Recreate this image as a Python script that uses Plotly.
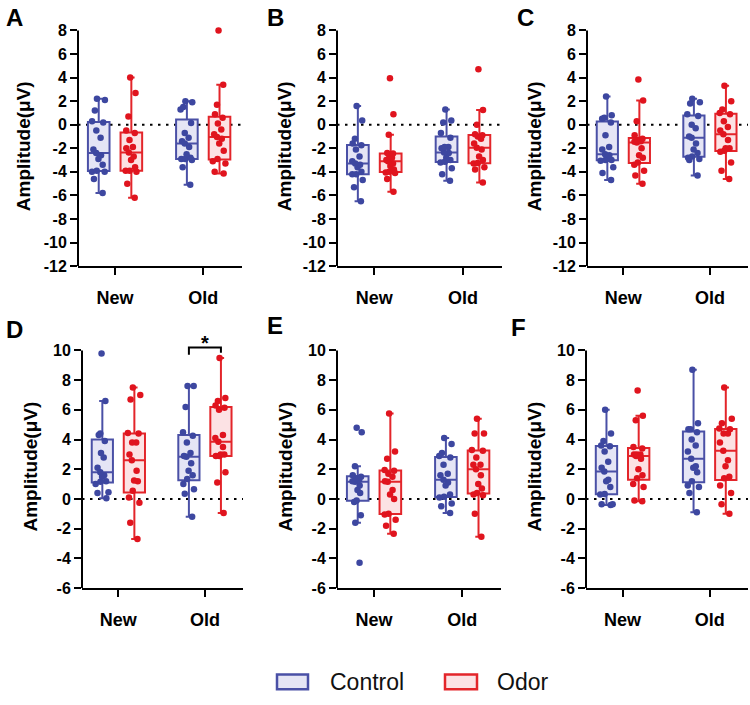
import plotly.graph_objects as go

# ---------------- data ----------------
categories = ["New", "Old"]
groups = ["Control", "Odor"]
panel_letters = ["A", "B", "C", "D", "E", "F"]

a_new_ctrl = [-5.8, -4.6, -4.0, -4.0, -3.9, -3.4, -2.9, -2.6, -2.4, -2.1, -1.1, -0.5, 0.2, 0.3, 1.2, 2.1, 2.2]
a_new_odor = [-6.2, -5.0, -4.0, -3.9, -3.9, -3.6, -3.0, -2.7, -2.35, -2.0, -1.9, -1.3, -0.7, -0.5, 0.7, 2.7, 4.0]
a_old_ctrl = [-5.1, -3.6, -3.0, -2.9, -2.9, -2.8, -2.5, -1.9, -1.6, -1.4, -1.1, -0.7, 0.15, 1.3, 1.5, 1.9, 2.0]
a_old_odor = [-4.15, -4.0, -3.3, -3.1, -2.9, -2.2, -1.6, -1.2, -1.05, -0.8, -0.4, 0.1, 0.6, 0.9, 1.7, 3.4, 8.0]

b_new_ctrl = [-6.5, -5.3, -4.7, -4.2, -4.2, -4.0, -3.6, -3.4, -3.3, -3.1, -2.7, -2.1, -1.75, -1.6, -1.2, 0.35, 1.6]
b_new_odor = [-5.7, -4.6, -4.1, -4.05, -4.0, -3.8, -3.5, -3.3, -3.1, -3.0, -2.8, -2.7, -2.45, -2.4, -0.85, 0.9, 3.95]
b_old_ctrl = [-4.75, -4.2, -3.7, -3.2, -3.15, -3.0, -2.8, -2.4, -2.35, -2.0, -1.9, -1.9, -1.1, -0.7, 0.2, 0.35, 1.3]
b_old_odor = [-4.9, -3.8, -3.6, -3.3, -3.25, -3.0, -2.7, -2.1, -1.95, -1.6, -1.2, -1.0, -0.9, -0.8, 0.0, 1.25, 4.7]

c_new_ctrl = [-4.7, -4.1, -3.6, -3.05, -3.0, -3.0, -2.9, -2.6, -2.5, -2.1, -1.9, -0.9, 0.2, 0.5, 0.6, 0.8, 2.4]
c_new_odor = [-5.0, -4.3, -3.9, -3.4, -3.2, -2.8, -2.6, -2.0, -1.5, -1.45, -1.4, -1.3, -1.2, -0.9, 0.3, 2.05, 3.85]
c_old_ctrl = [-4.3, -3.0, -2.9, -2.8, -2.7, -2.4, -2.1, -1.6, -1.1, -1.0, -0.3, 0.0, 0.75, 0.9, 1.8, 1.9, 2.2]
c_old_odor = [-4.6, -3.9, -3.2, -2.3, -2.2, -2.0, -2.0, -1.3, -0.8, -0.5, -0.2, 0.3, 0.9, 1.0, 1.3, 2.0, 3.3]

d_new_ctrl = [0.05, 0.4, 0.45, 1.0, 1.15, 1.2, 1.5, 1.6, 1.8, 2.1, 2.8, 3.1, 3.9, 4.3, 4.4, 6.6, 9.8]
d_new_odor = [-2.7, -1.6, -0.25, 0.1, 0.55, 1.2, 1.25, 1.9, 2.6, 3.0, 3.8, 3.8, 4.4, 4.45, 6.7, 7.0, 7.5]
d_old_ctrl = [-1.2, 0.35, 0.65, 1.0, 1.35, 1.6, 1.9, 2.4, 2.85, 2.9, 3.1, 3.8, 4.25, 4.5, 6.2, 7.6, 7.6]
d_old_odor = [-0.95, 1.1, 1.8, 2.9, 2.9, 3.0, 3.0, 3.5, 3.85, 4.1, 4.3, 6.0, 6.15, 6.3, 6.6, 6.8, 9.5]

e_new_ctrl = [-4.3, -1.6, -1.1, -0.2, -0.1, 0.4, 0.6, 0.9, 1.15, 1.2, 1.3, 1.4, 1.5, 1.6, 2.2, 4.5, 4.8]
e_new_odor = [-2.35, -1.8, -1.4, -1.05, -1.0, 0.0, 0.3, 0.6, 1.15, 1.2, 1.5, 1.7, 1.9, 1.95, 2.7, 3.2, 5.75]
e_old_ctrl = [-0.95, -0.5, -0.3, 0.1, 0.15, 0.3, 0.9, 1.1, 1.3, 1.6, 1.7, 2.3, 2.8, 2.9, 3.1, 3.7, 4.1]
e_old_odor = [-2.55, -1.0, 0.25, 0.3, 0.4, 0.7, 1.0, 1.6, 2.0, 2.3, 2.3, 2.8, 3.25, 3.3, 4.4, 4.4, 5.4]

f_new_ctrl = [-0.4, -0.35, -0.35, 0.3, 0.33, 0.8, 1.2, 1.3, 1.85, 2.1, 2.5, 3.2, 3.55, 3.6, 3.9, 4.4, 6.0]
f_new_odor = [-0.15, -0.1, 0.8, 1.0, 1.4, 1.6, 2.0, 2.7, 2.9, 3.0, 3.0, 3.0, 3.4, 3.5, 5.3, 5.6, 7.3]
f_old_ctrl = [-0.9, 0.4, 0.8, 0.9, 1.2, 1.8, 2.1, 2.2, 2.7, 3.2, 3.6, 4.0, 4.5, 4.7, 4.7, 5.1, 8.7]
f_old_odor = [-1.0, -0.35, 0.4, 0.9, 1.4, 1.5, 2.2, 2.6, 3.25, 3.8, 4.4, 4.4, 4.7, 4.75, 5.1, 5.4, 7.5]

row1_ticks = [-12, -10, -8, -6, -4, -2, 0, 2, 4, 6, 8]
row2_ticks = [-6, -4, -2, 0, 2, 4, 6, 8, 10]
y_title = "Amplitude(μV)"
sig_label = "*"

panel_data = [
    [[a_new_ctrl, a_new_odor], [a_old_ctrl, a_old_odor]],
    [[b_new_ctrl, b_new_odor], [b_old_ctrl, b_old_odor]],
    [[c_new_ctrl, c_new_odor], [c_old_ctrl, c_old_odor]],
    [[d_new_ctrl, d_new_odor], [d_old_ctrl, d_old_odor]],
    [[e_new_ctrl, e_new_odor], [e_old_ctrl, e_old_odor]],
    [[f_new_ctrl, f_new_odor], [f_old_ctrl, f_old_odor]],
]

# ---------------- style ----------------
W, H = 750, 705
FONT = "Arial, Liberation Sans, sans-serif"
line_cols = ["#4A50A6", "#E3252A"]
pt_cols = ["#3D47A0", "#E0141E"]
fill_cols = ["#E5E5F5", "#FCE2E4"]
offsets = [-0.185, 0.185]
box_w = 0.245
x_range = [-0.42, 1.44]
head = 0.35  # extra room above the top tick so top points are not cut

# panel pixel geometry (left, right, top tick, bottom)
px_x = [(78, 242), (337, 502), (587, 748), (82, 243), (337, 501), (586, 748)]
px_y = [(27, 267)] * 3 + [(353, 595)] * 3
title_standoff = [8, 6, 6, 10, 10, 10]
letter_pos = [(14, 14), (275, 14), (525, 14), (14, 332), (275, 328), (518, 330)]

fig = go.Figure()
layout = dict(
    width=W, height=H, margin=dict(l=0, r=0, t=0, b=0),
    paper_bgcolor="white", plot_bgcolor="white", showlegend=False,
    font=dict(family=FONT, color="black"),
)
shapes = []
annotations = []

for p in range(6):
    n = p + 1
    xa = "x" if n == 1 else f"x{n}"
    ya = "y" if n == 1 else f"y{n}"
    for j, cat in enumerate(categories):
        for g in range(2):
            vals = panel_data[p][j][g]
            fig.add_trace(go.Box(
                y=vals, x=[j + offsets[g]] * len(vals), name=groups[g],
                xaxis=xa, yaxis=ya, width=box_w,
                boxpoints="all", jitter=0.75, pointpos=0,
                marker=dict(color=pt_cols[g], size=6.5),
                line=dict(color=line_cols[g], width=2),
                fillcolor=fill_cols[g], whiskerwidth=0.3,
                showlegend=False, hoverinfo="y",
            ))
    x0, x1 = px_x[p]
    t0, b0 = px_y[p]
    ticks = row1_ticks if p < 3 else row2_ticks
    lo, hi = ticks[0], ticks[-1]
    px_per_unit = (b0 - t0) / (hi - lo)
    top_px = t0 - head * px_per_unit
    axis_common = dict(ticks="outside", tickwidth=2, ticklen=7, tickcolor="black",
                       showgrid=False, zeroline=False)
    layout["xaxis" if n == 1 else f"xaxis{n}"] = dict(
        domain=[x0 / W, x1 / W], anchor=ya, range=x_range,
        showline=True, linewidth=2, linecolor="black",
        tickvals=list(range(len(categories))), ticktext=categories,
        tickfont=dict(family=FONT, size=18, weight="bold", color="black"),
        ticklabelstandoff=7, **axis_common)
    layout["yaxis" if n == 1 else f"yaxis{n}"] = dict(
        domain=[1 - b0 / H, 1 - top_px / H], anchor=xa, range=[lo, hi + head],
        showline=False,
        tickvals=ticks, ticktext=[str(t) for t in ticks],
        tickfont=dict(family=FONT, size=16, weight="bold", color="black"),
        title=dict(text=y_title, font=dict(family=FONT, size=19, weight="bold", color="black"),
                   standoff=title_standoff[p]),
        **axis_common)
    # y axis line, ending at the top tick
    shapes.append(dict(type="line", xref=f"{xa} domain", yref=f"{ya} domain", x0=0, x1=0,
                       y0=0, y1=(hi - lo) / (hi + head - lo), line=dict(color="black", width=2)))
    # dotted zero line
    shapes.append(dict(type="line", xref=f"{xa} domain", yref=ya, x0=0, x1=1, y0=0, y1=0,
                       line=dict(color="black", width=2, dash="2.5px,5.5px"), layer="below"))
    lx, ly = letter_pos[p]
    annotations.append(dict(text=panel_letters[p], x=lx / W, y=1 - ly / H, xref="paper", yref="paper",
                            showarrow=False, xanchor="center", yanchor="middle",
                            font=dict(family=FONT, size=24, weight="bold", color="black")))

# significance bracket on panel D (Old: Control vs Odor)
def frac(v):
    return (v - x_range[0]) / (x_range[1] - x_range[0])

d_lo, d_hi = row2_ticks[0], row2_ticks[-1] + head
def yfrac(v):
    return (v - d_lo) / (d_hi - d_lo)

xc = frac(1 + offsets[0])
xo = frac(1 + offsets[1])
shapes.append(dict(type="path", xref="x4 domain", yref="y4 domain",
                   path=f"M {xc},{yfrac(9.72)} L {xc},{yfrac(10.2)} L {xo},{yfrac(10.2)} L {xo},{yfrac(9.85)}",
                   line=dict(color="black", width=2)))
annotations.append(dict(text=sig_label, x=1, y=yfrac(9.6), xref="x4", yref="y4 domain", showarrow=False,
                        xanchor="center", yanchor="bottom",
                        font=dict(family=FONT, size=20, weight="bold", color="black")))

# legend (drawn manually)
leg = [(277, 308, 328, 0), (445, 477, 495, 1)]
for r0, r1, tx, g in leg:
    shapes.append(dict(type="rect", xref="paper", yref="paper", x0=r0 / W, x1=r1 / W,
                       y0=1 - 698 / H, y1=1 - 683 / H, fillcolor=fill_cols[g],
                       line=dict(color=line_cols[g], width=2.5)))
    annotations.append(dict(text=groups[g], x=tx / W, y=1 - 690.5 / H, xref="paper", yref="paper",
                            showarrow=False, xanchor="left", yanchor="middle",
                            font=dict(family=FONT, size=23, color="#111111")))

layout["shapes"] = shapes
layout["annotations"] = annotations
fig.update_layout(**layout)
fig.write_html("out.html")
